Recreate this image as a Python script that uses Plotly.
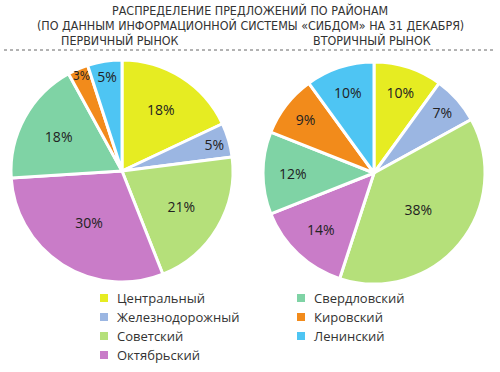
import math
import plotly.graph_objects as go

categories = ["Центральный", "Железнодорожный", "Советский", "Октябрьский",
              "Свердловский", "Кировский", "Ленинский"]
primary = [18, 5, 21, 30, 18, 3, 5]
secondary = [10, 7, 38, 14, 12, 9, 10]
colors = ["#e6ec22", "#9bb6e2", "#b5e07a", "#c97cc8", "#7fd3a5", "#f28b1b", "#4ec5f3"]

title_lines = ["РАСПРЕДЕЛЕНИЕ ПРЕДЛОЖЕНИЙ ПО РАЙОНАМ",
               "(ПО ДАННЫМ ИНФОРМАЦИОННОЙ СИСТЕМЫ «СИБДОМ» НА 31 ДЕКАБРЯ)"]
subtitles = ["ПЕРВИЧНЫЙ РЫНОК", "ВТОРИЧНЫЙ РЫНОК"]

W, H = 500, 372
def px(x): return x / W
def py(y): return 1 - y / H

lfont = dict(family="Open Sans", size=14, color="#222222")
fig = go.Figure()
annotations = []
pie_boxes = [(11, 233, 60, 282), (263, 485, 62, 284)]
for vals, (x0, x1, y0, y1) in zip([primary, secondary], pie_boxes):
    small = [v < 4 for v in vals]
    fig.add_trace(go.Pie(
        labels=categories, values=vals, sort=False, direction="clockwise",
        rotation=0, marker=dict(colors=colors, line=dict(color="white", width=3)),
        texttemplate=["" if s else "%{value}%" for s in small],
        textposition="inside", insidetextorientation="horizontal",
        textfont=lfont,
        domain=dict(x=[px(x0), px(x1)], y=[py(y1), py(y0)]),
        showlegend=False, hoverinfo="label+value",
    ))
    # labels for tiny slices that overflow their wedge
    total = sum(vals)
    cx, cy, r = (x0 + x1) / 2, (y0 + y1) / 2, (x1 - x0) / 2
    cum = 0
    for v, s in zip(vals, small):
        if s:
            ang = (cum + v / 2) / total * 2 * math.pi
            tx = cx + 0.93 * r * math.sin(ang)
            ty = cy - 0.93 * r * math.cos(ang)
            annotations.append(dict(x=px(tx), y=py(ty), xref="paper", yref="paper",
                                    text=f"{v}%", showarrow=False, xanchor="center",
                                    yanchor="middle",
                                    font=dict(family="DejaVu Sans Condensed", size=12,
                                              color="#222222")))
        cum += v

tfont = dict(family="DejaVu Sans Condensed, Liberation Sans Narrow, sans-serif", size=12.4, color="#333333")
annotations.append(dict(x=0.5, y=py(11), xref="paper", yref="paper", text=title_lines[0],
                        showarrow=False, font=tfont, xanchor="center", yanchor="middle", borderpad=0))
annotations.append(dict(x=0.5, y=py(25.5), xref="paper", yref="paper", text=title_lines[1],
                        showarrow=False, font=tfont, xanchor="center", yanchor="middle", borderpad=0))
for s, cx in zip(subtitles, [120, 372]):
    annotations.append(dict(x=px(cx), y=py(40), xref="paper", yref="paper", text=s,
                            showarrow=False, font=tfont, xanchor="center", yanchor="middle",
                            borderpad=0))

shapes = [dict(type="line", xref="paper", yref="paper", x0=px(4), x1=px(496), y0=py(50), y1=py(50),
               line=dict(color="#666666", width=1, dash="dot"))]

# custom two-column legend
col_x = [104, 301]
row_y = [298, 317, 336, 355]
for i, (cat, col) in enumerate(zip(categories, colors)):
    c = 0 if i < 4 else 1
    r = i if i < 4 else i - 4
    sx, sy = col_x[c], row_y[r]
    shapes.append(dict(type="rect", xref="paper", yref="paper",
                       x0=px(sx - 4), x1=px(sx + 4), y0=py(sy + 4), y1=py(sy - 4),
                       fillcolor=col, line=dict(width=0)))
    annotations.append(dict(x=px(sx + 11), y=py(sy), xref="paper", yref="paper", text=cat,
                            showarrow=False, xanchor="left", yanchor="middle",
                            font=dict(family="Open Sans", size=13, color="#333333")))

fig.update_layout(width=W, height=H, margin=dict(l=0, r=0, t=0, b=0),
                  paper_bgcolor="white", plot_bgcolor="white",
                  annotations=annotations, shapes=shapes)
fig.write_html("out.html", config={"displayModeBar": False},
               post_script="document.body.style.margin='0';document.body.style.padding='0';")
